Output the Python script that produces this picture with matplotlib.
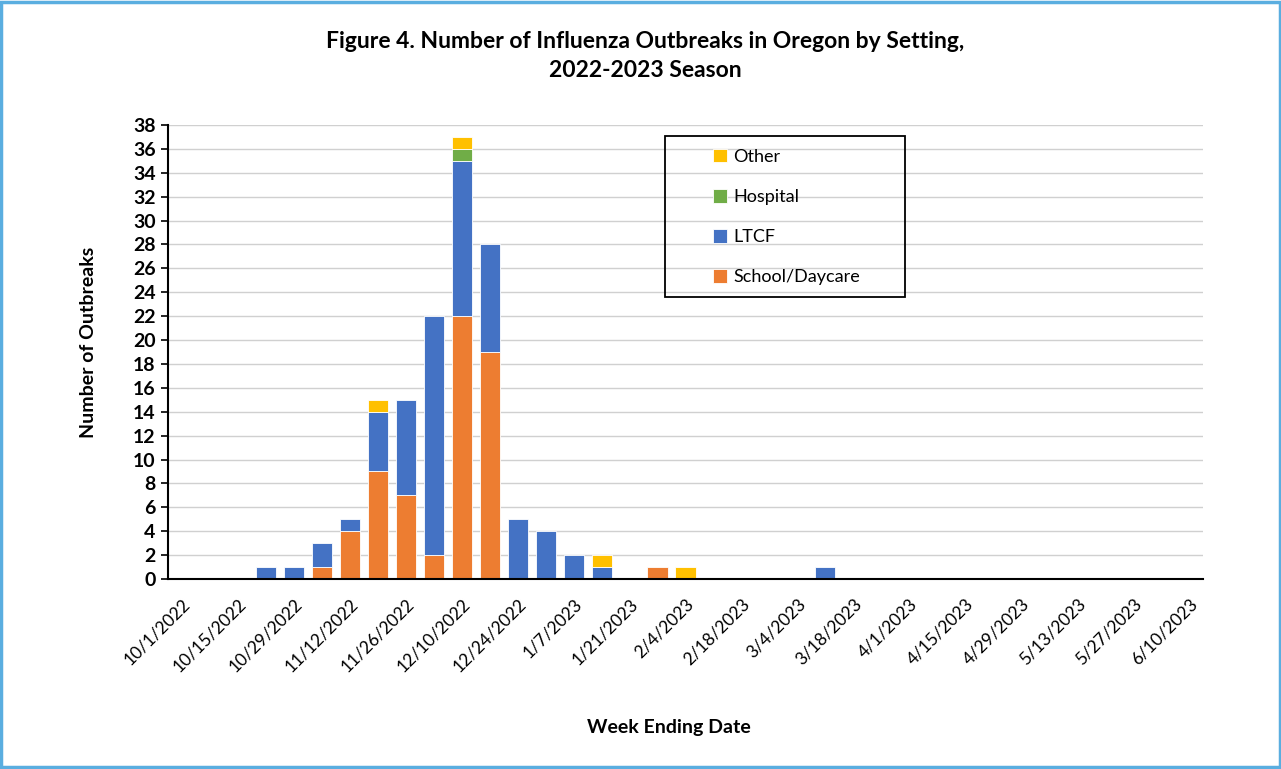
import matplotlib.pyplot as plt
import numpy as np
from matplotlib.patches import Rectangle

plt.rcParams['font.family'] = ['Lato', 'DejaVu Sans']

# weekly dates, 10/1/2022 .. 6/10/2023
weeks = ['10/1/2022', '10/8/2022', '10/15/2022', '10/22/2022', '10/29/2022', '11/5/2022',
         '11/12/2022', '11/19/2022', '11/26/2022', '12/3/2022', '12/10/2022', '12/17/2022',
         '12/24/2022', '12/31/2022', '1/7/2023', '1/14/2023', '1/21/2023', '1/28/2023',
         '2/4/2023', '2/11/2023', '2/18/2023', '2/25/2023', '3/4/2023', '3/11/2023',
         '3/18/2023', '3/25/2023', '4/1/2023', '4/8/2023', '4/15/2023', '4/22/2023',
         '4/29/2023', '5/6/2023', '5/13/2023', '5/20/2023', '5/27/2023', '6/3/2023',
         '6/10/2023']

school = [0, 0, 0, 0, 0, 1, 4, 9, 7, 2, 22, 19, 0, 0, 0, 0, 0, 1, 0, 0, 0, 0, 0, 0,
          0, 0, 0, 0, 0, 0, 0, 0, 0, 0, 0, 0, 0]
ltcf = [0, 0, 0, 1, 1, 2, 1, 5, 8, 20, 13, 9, 5, 4, 2, 1, 0, 0, 0, 0, 0, 0, 0, 1,
        0, 0, 0, 0, 0, 0, 0, 0, 0, 0, 0, 0, 0]
hospital = [0, 0, 0, 0, 0, 0, 0, 0, 0, 0, 1, 0, 0, 0, 0, 0, 0, 0, 0, 0, 0, 0, 0, 0,
            0, 0, 0, 0, 0, 0, 0, 0, 0, 0, 0, 0, 0]
other = [0, 0, 0, 0, 0, 0, 0, 1, 0, 0, 1, 0, 0, 0, 0, 1, 0, 0, 1, 0, 0, 0, 0, 0,
         0, 0, 0, 0, 0, 0, 0, 0, 0, 0, 0, 0, 0]

fig = plt.figure(figsize=(12.81, 7.69), dpi=100)
W, H = 1281, 769
ax = fig.add_axes([168 / W, 1 - 579 / H, (1203 - 168) / W, (579 - 125) / H])

x = np.arange(len(weeks))
bottom = np.zeros(len(weeks))
handles = {}
for name, vals, col in [('School/Daycare', school, '#ED7D31'), ('LTCF', ltcf, '#4472C4'),
                        ('Hospital', hospital, '#70AD47'), ('Other', other, '#FFC000')]:
    vals = np.array(vals, dtype=float)
    m = vals > 0
    handles[name] = ax.bar(x[m], vals[m], 0.72, bottom=bottom[m], color=col,
                           edgecolor='white', linewidth=0.6, label=name, zorder=3)
    bottom += vals

ax.set_xlim(-0.5, len(weeks) - 0.5)
ax.set_ylim(0, 38)
ax.set_yticks(range(0, 39, 2))
ax.set_yticklabels([str(v) for v in range(0, 39, 2)], fontsize=14, fontweight='bold')
ax.set_xticks(x[::2])
ax.set_xticklabels(weeks[::2], rotation=45, ha='right', rotation_mode='anchor', fontsize=12.5)
ax.tick_params(axis='x', length=0, pad=12)
ax.tick_params(axis='y', length=5, width=1.2, direction='out', pad=4)
ax.grid(axis='y', color='#d0d0d0', linewidth=1.0, zorder=0)
for s in ['top', 'right']:
    ax.spines[s].set_visible(False)
ax.spines['left'].set_linewidth(1.5)
ax.spines['bottom'].set_linewidth(1.5)
ax.spines['bottom'].set_zorder(4)

fig.text(88 / W, 1 - 342 / H, 'Number of Outbreaks', fontsize=14, fontweight='bold',
         rotation=90, ha='center', va='center')
fig.text(669 / W, 1 - 728 / H, 'Week Ending Date', fontsize=14, fontweight='bold', ha='center', va='center')
fig.text(645 / W, 1 - 56 / H, 'Figure 4. Number of Influenza Outbreaks in Oregon by Setting,\n2022-2023 Season',
         fontsize=16.5, fontweight='bold', ha='center', va='center', linespacing=1.45)

# legend frame drawn separately, entries placed inside
fig.patches.append(Rectangle((665 / W, 1 - 297 / H), 240 / W, 161 / H, transform=fig.transFigure,
                             fill=False, edgecolor='black', linewidth=1.3, zorder=5))
leg = fig.legend(handles=[handles['Other'], handles['Hospital'], handles['LTCF'], handles['School/Daycare']],
                 loc='upper left', bbox_to_anchor=(709 / W, 1 - 145 / H),
                 fontsize=13, frameon=False, handlelength=0.8, handleheight=0.8,
                 labelspacing=1.33, borderpad=0.2, handletextpad=0.35, borderaxespad=0)

fig.patches.append(Rectangle((0.001, 0.002), 0.998, 0.996, transform=fig.transFigure,
                             fill=False, edgecolor='#5AAEE0', linewidth=2.5))

fig.savefig('out.png', dpi=100)
